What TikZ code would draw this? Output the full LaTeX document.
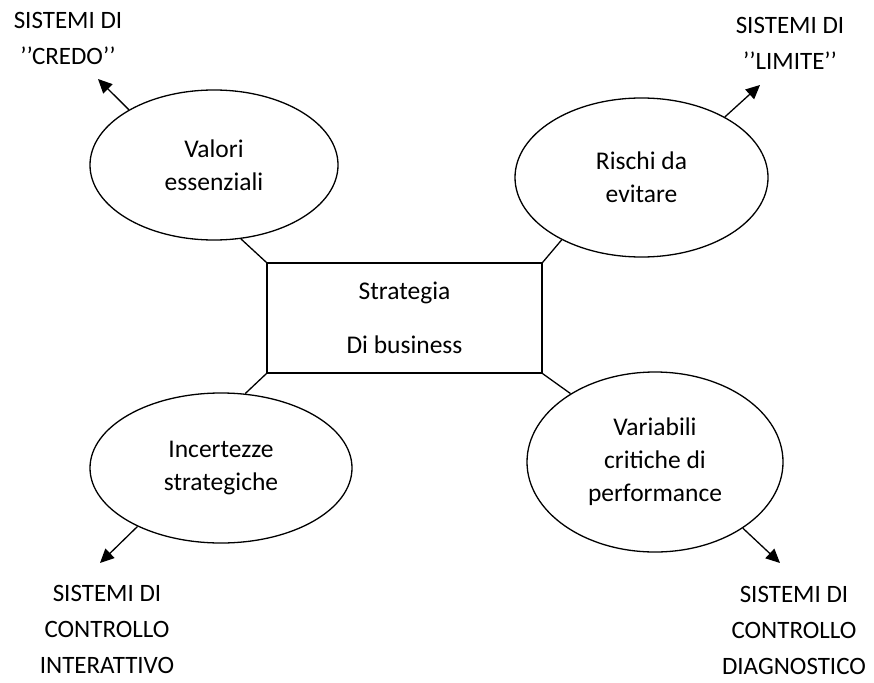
\documentclass[tikz,border=0pt]{standalone}
\usepackage{fontspec}
\setmainfont{Carlito}
\usetikzlibrary{shapes.geometric,arrows.meta,positioning}

\tikzset{
	oval/.style={ellipse,draw,line width=1.3pt,inner sep=0pt,align=center,font=\fontsize{25.5}{33}\selectfont},
	box/.style={rectangle,draw,line width=1.3pt,minimum width=275pt,minimum height=110pt,inner sep=0pt,align=center,font=\fontsize{25.5}{33}\selectfont},
	sys/.style={inner sep=0pt,align=center,font=\fontsize{25}{36}\selectfont},
	link/.style={line width=1.3pt},
	arr/.style={line width=1.3pt,-{Triangle[length=14pt,width=13pt]}}
}

\begin{document}
\begin{tikzpicture}[x=1pt,y=-1pt]
		
		\useasboundingbox (0,0) rectangle (874,682);
		
		\node[box] (SB) at (404.5,318) {Strategia\\[21pt]Di business};
		
		\node[oval,minimum width=248pt,minimum height=150pt] (VE) at (214,165) {Valori\\essenziali};
		\node[oval,minimum width=253pt,minimum height=159pt] (RE) at (641.5,177.5) {Rischi da\\evitare};
		\node[oval,minimum width=262pt,minimum height=150pt] (IS) at (221,468) {Incertezze\\strategiche};
		\node[oval,minimum width=256pt,minimum height=180pt] (VP) at (655,462) {Variabili\\critiche di\\performance};
		
		\draw[link] (VE.-70) -- (SB.north west);
		\draw[link] (RE.-142) -- (SB.north east);
		\draw[link] (IS.72) -- (SB.south west);
		\draw[link] (VP.141) -- (SB.south east);
		
		\node[sys,anchor=south] (sCR) at (68,65) {SISTEMI DI\\’’CREDO’’};
		\node[sys,anchor=south] (sLI) at (790,70) {SISTEMI DI\\’’LIMITE’’};
		\node[sys,anchor=south] (sIN) at (107,674) {SISTEMI DI\\CONTROLLO\\INTERATTIVO};
		\node[sys,anchor=south] (sDI) at (794,675) {SISTEMI DI\\CONTROLLO\\DIAGNOSTICO};
		
		\coordinate (tCR) at (98,79);
		\coordinate (tLI) at (760,85);
		\coordinate (tIN) at (100,563);
		\coordinate (tDI) at (780,563);
		
		\draw[arr] (VE.147) -- (tCR);
		\draw[arr] (RE.36) -- (tLI);
		\draw[arr] (IS.-145) -- (tIN);
		\draw[arr] (VP.-37) -- (tDI);
		
\end{tikzpicture}
\end{document}
